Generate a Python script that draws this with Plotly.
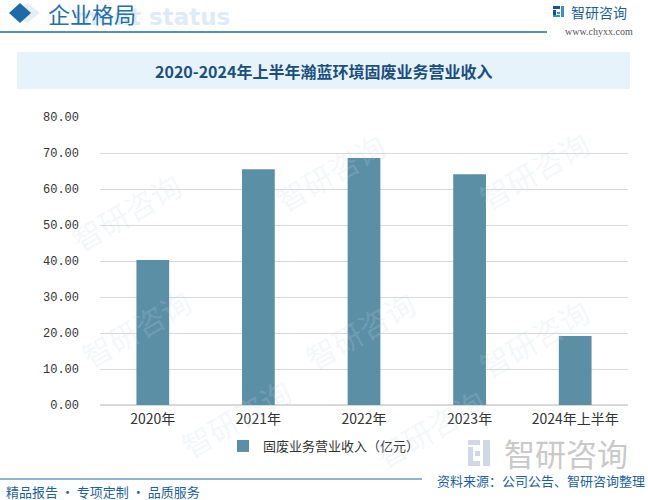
import plotly.graph_objects as go

categories = ["2020年", "2021年", "2022年", "2023年", "2024年上半年"]
revenue = [40.3, 65.5, 68.6, 64.1, 19.2]
y_ticks = [0, 10, 20, 30, 40, 50, 60, 70, 80]
y_tick_labels = ["%.2f" % v for v in y_ticks]
series_name = "固废业务营业收入（亿元）"
title_text = "2020-2024年上半年瀚蓝环境固废业务营业收入"

W, H = 648, 500
def px(x):
    return x / W
def py(y):
    return 1 - y / H

CJK = "Noto Sans CJK SC"

fig = go.Figure()
fig.add_trace(go.Bar(
    x=categories, y=revenue, name=series_name,
    marker=dict(color="#5b8fa6", line=dict(width=0)),
))

shapes = []
annotations = []

# faint watermarks
for (wx, wy) in [(60, 160), (330, 120), (600, 170), (70, 380), (360, 330), (600, 390), (170, 470), (430, 480)]:
    annotations.append(dict(x=px(wx), y=py(wy), xref="paper", yref="paper", text="智研咨询",
                            showarrow=False, textangle=-30,
                            font=dict(family=CJK, size=30, color="rgba(200,215,228,0.2)")))

# header
shapes.append(dict(type="path", path="M %f %f L %f %f L %f %f L %f %f Z" % (
    px(14), py(13), px(27), py(3), px(40), py(13), px(27), py(23)),
    xref="paper", yref="paper", fillcolor="#e3eef7", line=dict(width=0), layer="below"))
annotations.append(dict(x=px(72), y=py(17), xref="paper", yref="paper", xanchor="left", yanchor="middle",
                        text="<b>ment status</b>", showarrow=False,
                        font=dict(family="DejaVu Sans", size=23, color="#deebf7")))
shapes.append(dict(type="path", path="M %f %f L %f %f L %f %f L %f %f Z" % (
    px(9), py(13), px(20), py(3), px(31), py(13), px(20), py(23)),
    xref="paper", yref="paper", fillcolor="#1f6aa8", line=dict(width=0), layer="above"))
annotations.append(dict(x=px(46), y=py(13), xref="paper", yref="paper", xanchor="left", yanchor="middle",
                        text="企业格局", showarrow=False,
                        font=dict(family=CJK, size=22, color="#2270b0")))
shapes.append(dict(type="line", x0=0, x1=px(547), y0=py(32), y1=py(32), xref="paper", yref="paper",
                   line=dict(color="#1f6aa8", width=1.5)))
# logo icon
for (x0, y0, x1, y1, c) in [(553, 6, 560, 9, "#1f4f8f"), (553, 10, 556, 17, "#1f4f8f"),
                            (557, 12, 560, 14, "#3a8fd0"), (561, 6, 564, 17, "#3a8fd0"),
                            (553, 15, 560, 17, "#3a8fd0")]:
    shapes.append(dict(type="rect", x0=px(x0), x1=px(x1), y0=py(y0), y1=py(y1), xref="paper", yref="paper",
                       fillcolor=c, line=dict(width=0)))
annotations.append(dict(x=px(569), y=py(12), xref="paper", yref="paper", xanchor="left", yanchor="middle",
                        text="智研咨询", showarrow=False, font=dict(family=CJK, size=14, color="#1f5f9f")))
annotations.append(dict(x=px(599), y=py(31), xref="paper", yref="paper", xanchor="center", yanchor="middle",
                        text="www.chyxx.com", showarrow=False, font=dict(family="Liberation Serif", size=10, color="#555555")))

# title box
shapes.append(dict(type="rect", x0=px(17), x1=px(630), y0=py(52), y1=py(89), xref="paper", yref="paper",
                   fillcolor="#e6f3fb", line=dict(width=0), layer="below"))
annotations.append(dict(x=px(323), y=py(71), xref="paper", yref="paper", xanchor="center", yanchor="middle",
                        text="<b>" + title_text + "</b>", showarrow=False,
                        font=dict(family=CJK, size=16, color="#1b4f7d")))

# bottom watermark logo
for (x0, y0, x1, y1) in [(468, 440, 480, 445), (468, 447, 473, 466), (475, 451, 480, 456), (483, 440, 490, 466), (468, 461, 480, 466)]:
    shapes.append(dict(type="rect", x0=px(x0), x1=px(x1), y0=py(y0), y1=py(y1), xref="paper", yref="paper",
                       fillcolor="#cfd8e3", line=dict(width=0)))
annotations.append(dict(x=px(566), y=py(452), xref="paper", yref="paper", xanchor="center", yanchor="middle",
                        text="智研咨询", showarrow=False, font=dict(family=CJK, size=31, color="#c9c9c9")))

# footer
shapes.append(dict(type="line", x0=0, x1=px(422), y0=py(479), y1=py(479), xref="paper", yref="paper",
                   line=dict(color="#1f6aa8", width=1)))
annotations.append(dict(x=px(647), y=py(480), xref="paper", yref="paper", xanchor="right", yanchor="middle",
                        text="资料来源：公司公告、智研咨询整理", showarrow=False,
                        font=dict(family=CJK, size=13, color="#1f5f9f")))
annotations.append(dict(x=px(4), y=py(491), xref="paper", yref="paper", xanchor="left", yanchor="middle",
                        text="精品报告 · 专项定制 · 品质服务", showarrow=False,
                        font=dict(family=CJK, size=13, color="#1f5f9f")))

fig.update_layout(
    width=W, height=H,
    margin=dict(l=0, r=0, t=0, b=0),
    paper_bgcolor="white", plot_bgcolor="rgba(0,0,0,0)",
    bargap=0.69,
    showlegend=True,
    legend=dict(x=0.5, y=py(446), xanchor="center", yanchor="middle", orientation="h",
                font=dict(family=CJK, size=13, color="#333333"), bgcolor="rgba(0,0,0,0)",
                itemwidth=30),
    xaxis=dict(domain=[px(100), px(628)], showgrid=False, showline=False, ticks="", automargin=False,
               tickfont=dict(family=CJK, size=14, color="#333333"), ticklabelstandoff=4),
    yaxis=dict(domain=[py(405), py(117)], range=[0, 80], tickvals=y_ticks, ticktext=y_tick_labels,
               showgrid=True, gridcolor="#d9d9d9", gridwidth=1, zeroline=True, zerolinecolor="#d9d9d9",
               showline=False, ticks="", ticklabelstandoff=20, automargin=False,
               tickfont=dict(family="Liberation Mono", size=12, color="#333333")),
    shapes=shapes, annotations=annotations,
)

fig.write_html("out.html", config={"displayModeBar": False},
               post_script="document.body.style.margin='0px';document.body.style.overflow='hidden';")
